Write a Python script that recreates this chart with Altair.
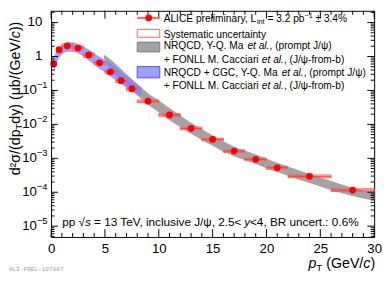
import altair as alt
import pandas as pd

FONT = "Liberation Sans"

# ---------------- data ----------------
pt     = [0.25, 0.75, 1.5, 2.5, 3.5, 4.5, 5.5, 6.5, 7.5, 9, 11, 13, 15, 17, 19, 21, 24, 28]
pt_lo  = [0.0, 0.5, 1, 2, 3, 4, 5, 6, 7, 8, 10, 12, 14, 16, 18, 20, 22, 26]
pt_hi  = [0.5, 1.0, 2, 3, 4, 5, 6, 7, 8, 10, 12, 14, 16, 18, 20, 22, 26, 30]
xsec   = [0.61, 1.59, 2.07, 1.77, 1.11, 0.653, 0.352, 0.194, 0.112, 0.0481, 0.0190,
          0.00764, 0.00361, 0.00163, 0.000935, 0.000525, 0.000295, 0.000116]
stat_rel = [0.04, 0.04, 0.03, 0.03, 0.03, 0.03, 0.03, 0.03, 0.04, 0.04, 0.04,
            0.05, 0.05, 0.06, 0.07, 0.08, 0.12, 0.22]
syst_rel = [0.15, 0.15, 0.15, 0.15, 0.15, 0.12, 0.12, 0.12, 0.12, 0.09, 0.09,
            0.09, 0.09, 0.09, 0.09, 0.09, 0.09, 0.09]

gray_pt = [4.9, 5.5, 6, 7, 8, 9, 10, 11, 12, 13, 14, 15, 16, 17, 18, 19, 20, 21, 22, 24, 26, 28, 30]
gray_lo = [0.891, 0.417, 0.282, 0.135, 0.0708, 0.0380, 0.0229, 0.0132, 0.00832, 0.00525,
           0.00347, 0.00234, 0.00158, 0.00115, 0.000871, 0.000676, 0.000513, 0.000398,
           0.000309, 0.000186, 0.000117, 0.0000776, 0.0000562]
gray_hi = [1.122, 0.832, 0.603, 0.302, 0.158, 0.0832, 0.0501, 0.0302, 0.0182, 0.0112,
           0.00724, 0.00479, 0.00316, 0.00219, 0.00166, 0.00129, 0.000977, 0.000741,
           0.000575, 0.000347, 0.000214, 0.000135, 0.0000912]

blue_pt = [0.25, 0.4, 0.7, 1.0, 1.5, 2.0, 2.5, 3.0, 3.5, 4.0, 4.5, 5.0, 5.5, 6.0, 6.5, 7.0, 7.5, 8.0, 8.4]
blue_lo = [0.316, 0.479, 0.851, 1.122, 1.349, 1.380, 1.230, 1.023, 0.759, 0.575, 0.427,
           0.347, 0.263, 0.200, 0.155, 0.120, 0.0933, 0.0794, 0.0692]
blue_hi = [0.794, 1.202, 1.585, 1.995, 2.570, 2.630, 2.344, 1.995, 1.585, 1.259, 0.977,
           0.794, 0.646, 0.479, 0.355, 0.263, 0.200, 0.148, 0.120]

x_tick_labels = [0, 5, 10, 15, 20, 25, 30]
y_major = [1e-5, 1e-4, 1e-3, 1e-2, 1e-1, 1, 10]
y_exp_vals = [1e-5, 1e-4, 1e-3, 1e-2, 1e-1]
y_exp_text = ["\u22125", "\u22124", "\u22123", "\u22122", "\u22121"]

# ---------------- layout ----------------
W, H = 330, 231
YMIN, YMAX = 4.82e-6, 22.2
xscale = alt.Scale(domain=[0, 30], nice=False, zero=False)
yscale = alt.Scale(type="log", domain=[YMIN, YMAX], nice=False)
xaxis = alt.Axis(values=x_tick_labels, labelFont=FONT, labelFontSize=13.5, labelColor="black",
                 labelPadding=5, ticks=False, tickSize=0, domain=False, grid=False,
                 title=None, labelFlush=False, labelOverlap=False, format="d")


def X(f):
    return alt.X(f, type="quantitative", scale=xscale, axis=xaxis)


def Y(f):
    return alt.Y(f, type="quantitative", scale=yscale, axis=None)


df = pd.DataFrame({"pt": pt, "lo": pt_lo, "hi": pt_hi, "y": xsec,
                   "st": stat_rel, "sy": syst_rel})
df["slo"] = df.y * (1 - df.st)
df["shi"] = df.y * (1 + df.st)
df["ylo"] = df.y * (1 - df.sy)
df["yhi"] = df.y * (1 + df.sy)

gray = pd.DataFrame({"pt": gray_pt, "lo": gray_lo, "hi": gray_hi})
blue = pd.DataFrame({"pt": blue_pt, "lo": blue_lo, "hi": blue_hi})

layers = []
layers.append(alt.Chart(gray).mark_area(color="#a3a3a3", opacity=1, interpolate="monotone")
              .encode(x=X("pt"), y=Y("lo"), y2="hi"))
layers.append(alt.Chart(blue).mark_area(color="#7f7fff", opacity=0.75, interpolate="monotone")
              .encode(x=X("pt"), y=Y("lo"), y2="hi"))
layers.append(alt.Chart(df).mark_rect(fillOpacity=0, stroke="#ff6464", strokeWidth=1)
              .encode(x=X("lo"), x2="hi", y=Y("ylo"), y2="yhi"))
layers.append(alt.Chart(df).mark_rule(color="#ff3030", strokeWidth=1)
              .encode(x=X("lo"), x2="hi", y=Y("y")))
layers.append(alt.Chart(df).mark_rule(color="#c00000", strokeWidth=1)
              .encode(x=X("pt"), y=Y("slo"), y2="shi"))
layers.append(alt.Chart(df).mark_circle(color="#ff0000", size=48, opacity=1)
              .encode(x=X("pt"), y=Y("y")))

# ---------------- ticks (inside the frame, all four sides) ----------------
xmaj = pd.DataFrame({"v": x_tick_labels})
xmin = pd.DataFrame({"v": [i for i in range(31) if i % 5]})
ymaj = pd.DataFrame({"v": y_major})
ymin = pd.DataFrame({"v": [k * 10.0 ** n for n in range(-6, 2) for k in range(2, 10)
                           if YMIN <= k * 10.0 ** n <= YMAX]})
for d, ln in ((xmaj, 8), (xmin, 4)):
    layers.append(alt.Chart(d).mark_rule(color="black", strokeWidth=1)
                  .encode(x=X("v"), y=alt.value(H), y2=alt.value(H - ln)))
    layers.append(alt.Chart(d).mark_rule(color="black", strokeWidth=1)
                  .encode(x=X("v"), y=alt.value(0), y2=alt.value(ln)))
for d, ln in ((ymaj, 7), (ymin, 3.5)):
    layers.append(alt.Chart(d).mark_rule(color="black", strokeWidth=1)
                  .encode(y=Y("v"), x=alt.value(0), x2=alt.value(ln)))
    layers.append(alt.Chart(d).mark_rule(color="black", strokeWidth=1)
                  .encode(y=Y("v"), x=alt.value(W), x2=alt.value(W - ln)))

# ---------------- y tick labels ----------------
ylab_plain = pd.DataFrame({"v": [10, 1], "t": ["10", "1"]})
ylab_base = pd.DataFrame({"v": y_exp_vals, "t": ["10"] * len(y_exp_vals), "e": y_exp_text})
layers.append(alt.Chart(ylab_plain).mark_text(align="right", baseline="middle", font=FONT,
                                              fontSize=13.5, color="black")
              .encode(y=Y("v"), x=alt.value(-9), text="t:N"))
layers.append(alt.Chart(ylab_base).mark_text(align="right", baseline="middle", font=FONT,
                                             fontSize=13.5, color="black")
              .encode(y=Y("v"), x=alt.value(-14.5), text="t:N"))
layers.append(alt.Chart(ylab_base).mark_text(align="left", baseline="middle", font=FONT,
                                             fontSize=9.5, color="black", dy=-5)
              .encode(y=Y("v"), x=alt.value(-14.5), text="e:N"))

# ---------------- text helpers ----------------
AW = {' ': 278, '%': 889, '(': 333, ')': 333, '+': 584, ',': 278, '-': 333, '.': 278, '/': 278,
      ':': 278, '<': 584, '=': 584, '\u00b1': 549, '\u221a': 549, '\u03c8': 712, '\u03c3': 600,
      '\u03bc': 576, '\u00b2': 333, '\u2212': 584,
      'A': 667, 'B': 667, 'C': 722, 'D': 722, 'E': 667, 'F': 611, 'G': 778, 'I': 278, 'J': 500,
      'L': 556, 'M': 833, 'N': 722, 'O': 778, 'Q': 778, 'R': 722, 'S': 667, 'T': 611, 'V': 667,
      'Y': 667, 'a': 556, 'b': 556, 'c': 500, 'd': 556, 'e': 556, 'f': 278, 'i': 222, 'l': 222,
      'm': 833, 'n': 556, 'o': 556, 'p': 556, 'r': 333, 's': 500, 't': 278, 'u': 556, 'v': 500,
      'y': 500}


def tw(s, size):
    return sum(AW.get(c, 556) for c in s) * size / 1000.0


def txt(s, x, y, size, style="normal", angle=0, color="black", font=FONT, align="left"):
    return (alt.Chart(pd.DataFrame({"t": [s]}))
            .mark_text(align=align, baseline="alphabetic", fontSize=size, fontStyle=style,
                       font=font, color=color, angle=angle)
            .encode(x=alt.value(x), y=alt.value(y), text="t:N"))


def hrun(x0, y, parts):
    out, x = [], x0
    for s, size, style, dy in parts:
        lead = len(s) - len(s.lstrip(" "))
        if s.strip():
            out.append(txt(s.strip(), x + tw(" " * lead, size), y + dy, size, style))
        x += tw(s, size)
    return out


def vrun(xb, y0, parts):
    out, y = [], y0
    for s, size, style, dx in parts:
        lead = len(s) - len(s.lstrip(" "))
        if s.strip():
            out.append(txt(s.strip(), xb + dx, y - tw(" " * lead, size), size, style, angle=270))
        y -= tw(s, size)
    return out


# ---------------- legend ----------------
LS = 10.4
LX = 115
one = pd.DataFrame({"a": [0]})
layers.append(alt.Chart(one).mark_rule(color="#ff6464", strokeWidth=2)
              .encode(x=alt.value(88), x2=alt.value(111), y=alt.value(7.3)))
layers.append(alt.Chart(one).mark_circle(color="#ff0000", size=48, opacity=1)
              .encode(x=alt.value(99.7), y=alt.value(7.3)))
layers.append(alt.Chart(one).mark_rect(fillOpacity=0, stroke="#ff6464", strokeWidth=1)
              .encode(x=alt.value(88), x2=alt.value(111), y=alt.value(19), y2=alt.value(27)))
layers.append(alt.Chart(one).mark_rect(color="#a3a3a3", stroke="#7a7a7a", strokeWidth=1)
              .encode(x=alt.value(88), x2=alt.value(111), y=alt.value(32), y2=alt.value(42)))
layers.append(alt.Chart(one).mark_rect(color="#9f9fff", stroke="#5050ff", strokeWidth=1)
              .encode(x=alt.value(88), x2=alt.value(111), y=alt.value(57), y2=alt.value(68.5)))

layers += hrun(LX, 11.1, [("ALICE preliminary, L", LS, "normal", 0), ("int", 7.3, "normal", 2.6),
                          (" = 3.2 pb", LS, "normal", 0), ("\u22121", 7.3, "normal", -4.2),
                          (" \u00b1 3.4%", LS, "normal", 0)])
layers += hrun(LX, 27.5, [("Systematic uncertainty", LS, "normal", 0)])
layers += hrun(LX, 39.1, [("NRQCD, Y-Q. Ma ", LS, "normal", 0), ("et al.", LS, "italic", 0),
                          (", (prompt J/\u03c8)", LS, "normal", 0)])
layers += hrun(LX, 53.3, [("+ FONLL M. Cacciari ", LS, "normal", 0), ("et al.", LS, "italic", 0),
                          (", (J/\u03c8-from-b)", LS, "normal", 0)])
layers += hrun(LX, 66.6, [("NRQCD + CGC, Y-Q. Ma ", LS, "normal", 0), ("et al.", LS, "italic", 0),
                          (", (prompt J/\u03c8)", LS, "normal", 0)])
layers += hrun(LX, 80.0, [("+ FONLL M. Cacciari ", LS, "normal", 0), ("et al.", LS, "italic", 0),
                          (", (J/\u03c8-from-b)", LS, "normal", 0)])

# ---------------- bottom annotation ----------------
BS = 12
layers += hrun(11.3, 219.6, [("pp \u221a", BS, "normal", 0), ("s", BS, "italic", 0),
                             (" = 13 TeV, inclusive J/\u03c8, 2.5<", BS, "normal", 0),
                             ("y", BS, "italic", 0), ("<4, BR uncert.: 0.6%", BS, "normal", 0)])

# ---------------- axis titles ----------------
XS = 14.5
xparts = [("p", XS, "italic", 0), ("T", 10, "normal", 3), (" (GeV/", XS, "normal", 0),
          ("c", XS, "italic", 0), (")", XS, "normal", 0)]
xtot = sum(tw(s, sz) for s, sz, _, _ in xparts)
layers += hrun(331 - xtot, 262.5, xparts)

YS = 14.5
layers += vrun(-31.5, 168, [("d\u00b2\u03c3/(dp", YS, "normal", 0), ("T", 10, "normal", 2.2),
                            ("dy) (\u03bcb/(GeV/", YS, "normal", 0), ("c", YS, "italic", 0),
                            ("))", YS, "normal", 0)])

layers.append(txt("ALI-PREL-107887", -43, 265.5, 6.2, font="Liberation Mono", color="#9a9a9a"))

chart = (alt.layer(*layers)
         .properties(width=W, height=H,
                     autosize=alt.AutoSizeParams(type="none"),
                     padding={"left": 44, "top": 0, "right": 8, "bottom": 36})
         .configure_view(stroke="black", strokeWidth=1)
         .configure_axis(grid=False))

chart.save("out.html", embed_options={"renderer": "svg", "actions": False})
